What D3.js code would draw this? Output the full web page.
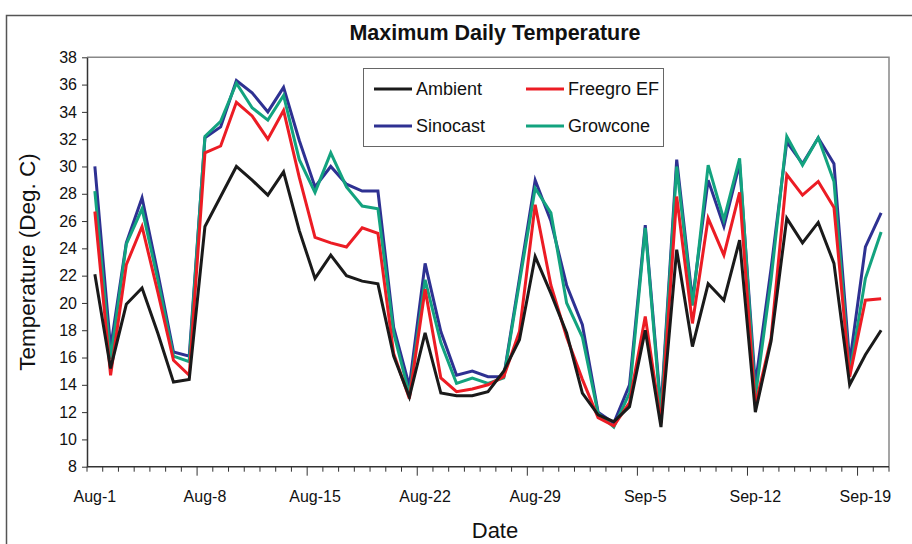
<!DOCTYPE html>
<html>
<head>
<meta charset="utf-8">
<script src="https://cdn.jsdelivr.net/npm/d3@7"></script>
<style>
  body { margin: 0; background: #fff; }
  svg text { font-family: "Liberation Sans", Arial, sans-serif; fill: #111; }
</style>
</head>
<body>
<svg id="chart"></svg>
<script>
// categories: one per day, Aug-1 .. Sep-20
const days = d3.timeDay.range(new Date(2009, 7, 1), new Date(2009, 8, 21))
const fmt = d3.timeFormat("%b-%-d")
const dayLabels = days.map(fmt)
const tickLabels = ["Aug-1", "Aug-8", "Aug-15", "Aug-22", "Aug-29", "Sep-5", "Sep-12", "Sep-19"]
const yTicks = [8, 10, 12, 14, 16, 18, 20, 22, 24, 26, 28, 30, 32, 34, 36, 38]

const ambient = [22.1, 15.2, 19.9, 21.1, 17.8, 14.2, 14.4, 25.6, 27.8, 30.0,
  29.0, 27.9, 29.6, 25.3, 21.8, 23.5, 22.0, 21.6, 21.4, 16.1,
  13.1, 17.8, 13.4, 13.2, 13.2, 13.5, 15.0, 17.3, 23.4, 20.7,
  17.8, 13.4, 11.8, 11.3, 12.4, 18.0, 10.9, 23.9, 16.8, 21.4,
  20.2, 24.6, 12.0, 17.2, 26.2, 24.4, 25.9, 22.9, 14.0, 16.2, 18.0]
const freegro = [26.7, 14.7, 22.8, 25.6, 20.8, 15.8, 14.7, 31.0, 31.5, 34.7,
  33.7, 32.0, 34.1, 29.2, 24.8, 24.4, 24.1, 25.5, 25.1, 16.3,
  13.0, 21.0, 14.5, 13.5, 13.7, 14.0, 14.6, 17.9, 27.2, 21.3,
  17.5, 14.4, 11.6, 11.0, 12.7, 19.0, 11.2, 27.8, 18.5, 26.2,
  23.5, 28.1, 12.5, 17.4, 29.4, 27.9, 28.9, 27.0, 14.6, 20.2, 20.3]
const sinocast = [30.0, 16.7, 24.4, 27.7, 22.2, 16.4, 16.1, 32.1, 32.9, 36.3,
  35.4, 34.0, 35.8, 31.9, 28.5, 30.0, 28.7, 28.2, 28.2, 18.2,
  13.9, 22.9, 17.9, 14.7, 15.0, 14.6, 14.6, 21.8, 29.0, 26.0,
  21.3, 18.4, 12.0, 11.2, 14.0, 25.7, 12.2, 30.5, 20.2, 29.0,
  25.6, 30.2, 14.0, 22.5, 31.8, 30.2, 32.1, 30.2, 15.6, 24.1, 26.6]
const growcone = [28.2, 15.9, 24.3, 26.9, 21.7, 16.1, 15.7, 32.2, 33.3, 36.1,
  34.3, 33.4, 35.2, 30.5, 28.1, 31.0, 28.5, 27.1, 26.9, 17.8,
  13.3, 21.7, 17.1, 14.1, 14.5, 14.1, 14.5, 21.5, 28.4, 26.6,
  20.0, 17.5, 11.9, 10.9, 13.4, 25.5, 11.8, 30.0, 19.8, 30.1,
  26.1, 30.6, 13.1, 21.7, 32.2, 30.1, 32.1, 28.9, 14.8, 21.8, 25.2]

const series = [
  {name: "Ambient", values: ambient, color: "#1a1a1a"},
  {name: "Freegro EF", values: freegro, color: "#ec1c24"},
  {name: "Sinocast", values: sinocast, color: "#2e3192"},
  {name: "Growcone", values: growcone, color: "#13a37f"}
]
// draw order: blue under green, red & black on top
const drawOrder = [2, 3, 1, 0]

const w = 912, h = 544
const m = {t: 57.3, r: 889, b: 466.7, l: 87}

let svg = d3.select('#chart').attr('width', w).attr('height', h)

// outer chart border
svg.append('rect')
    .attr('x', 6.5).attr('y', 15.5)
    .attr('width', w).attr('height', h)
    .attr('fill', 'none')
    .attr('stroke', '#555')
    .attr('stroke-width', 1.5)

let x = d3.scaleBand()
    .domain(dayLabels)
    .range([m.l, m.r])

let y = d3.scaleLinear()
    .domain([8, 38])
    .range([m.b, m.t])

// plot area frame (top & right in gray)
svg.append('path')
    .attr('d', `M${m.l},${m.t}H${m.r}V${m.b}`)
    .attr('fill', 'none')
    .attr('stroke', '#888')
    .attr('stroke-width', 1.5)

// y axis
let yAxis = svg.append('g')
    .attr('transform', `translate(${m.l}, 0)`)
    .call(d3.axisLeft(y).tickValues(yTicks).tickSize(5).tickSizeOuter(0).tickPadding(5))
yAxis.select('.domain').attr('stroke', '#333').attr('stroke-width', 1.5)
yAxis.selectAll('.tick line').attr('stroke', '#333')
yAxis.selectAll('.tick text').attr('font-size', 16).attr('fill', '#111')

// x axis: line, boundary ticks, labels every 7 days
let xAxis = svg.append('g').attr('transform', `translate(0, ${m.b})`)
xAxis.append('line')
    .attr('x1', m.l).attr('x2', m.r)
    .attr('stroke', '#333').attr('stroke-width', 1.5)
xAxis.selectAll('.btick')
    .data(dayLabels.concat(['end']))
    .join('line')
    .attr('class', 'btick')
    .attr('x1', (d, i) => i < dayLabels.length ? x(d) : m.r)
    .attr('x2', (d, i) => i < dayLabels.length ? x(d) : m.r)
    .attr('y1', 0)
    .attr('y2', (d, i) => (i % 7 === 0 && i > 0) ? 9 : 5)
    .attr('stroke', '#333')
xAxis.selectAll('.xlab')
    .data(tickLabels)
    .join('text')
    .attr('class', 'xlab')
    .attr('x', d => x(d) + x.bandwidth() / 2)
    .attr('y', 35)
    .attr('text-anchor', 'middle')
    .attr('font-size', 16)
    .text(d => d)

// lines
let line = d3.line()
    .x((d, i) => x(dayLabels[i]) + x.bandwidth() / 2)
    .y(d => y(d))

svg.append('g')
    .selectAll('path')
    .data(drawOrder.map(i => series[i]))
    .join('path')
    .attr('fill', 'none')
    .attr('stroke', d => d.color)
    .attr('stroke-width', 3)
    .attr('stroke-linejoin', 'miter')
    .attr('d', d => line(d.values))

// titles
svg.append('text')
    .attr('x', 495).attr('y', 40)
    .attr('text-anchor', 'middle')
    .attr('font-size', 21.5).attr('font-weight', 'bold')
    .text('Maximum Daily Temperature')

svg.append('text')
    .attr('x', 495).attr('y', 538)
    .attr('text-anchor', 'middle')
    .attr('font-size', 22)
    .text('Date')

svg.append('text')
    .attr('transform', 'translate(35, 262) rotate(-90)')
    .attr('text-anchor', 'middle')
    .attr('font-size', 22.5)
    .text('Temperature (Deg. C)')

// legend
let legend = svg.append('g')
legend.append('rect')
    .attr('x', 363.5).attr('y', 68.5)
    .attr('width', 300).attr('height', 78)
    .attr('fill', '#fff')
    .attr('stroke', '#666')
let legPos = [[374, 89], [526, 89], [374, 126], [526, 126]]
let legItems = legend.selectAll('.item')
    .data(series)
    .join('g')
    .attr('class', 'item')
    .attr('transform', (d, i) => `translate(${legPos[i][0]}, ${legPos[i][1]})`)
legItems.append('line')
    .attr('x1', 0).attr('x2', 38)
    .attr('stroke', d => d.color)
    .attr('stroke-width', 3)
legItems.append('text')
    .attr('x', 42).attr('y', 6)
    .attr('font-size', 18)
    .text(d => d.name)
</script>
</body>
</html>
